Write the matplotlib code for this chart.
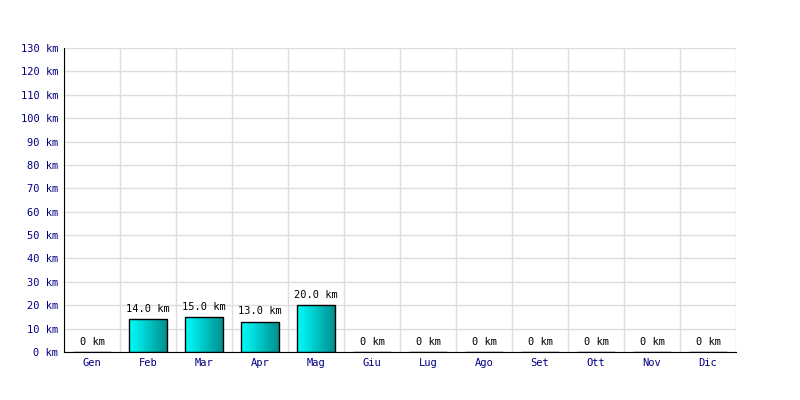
import matplotlib
matplotlib.use("Agg")
import matplotlib.pyplot as plt
import numpy as np

months = ["Gen", "Feb", "Mar", "Apr", "Mag", "Giu", "Lug", "Ago", "Set", "Ott", "Nov", "Dic"]
km = [0, 14.0, 15.0, 13.0, 20.0, 0, 0, 0, 0, 0, 0, 0]
y_ticks = list(range(0, 131, 10))

plt.rcParams['font.family'] = ['DejaVu Sans Mono']

fig = plt.figure(figsize=(8, 4), dpi=100)
ax = fig.add_axes([0.08, 0.12, 0.84, 0.76])

x = np.arange(len(months))
bars = ax.bar(x, km, width=0.68, facecolor='none', edgecolor='black', linewidth=1, zorder=3)

# horizontal gradient inside each bar
grad = np.linspace(0, 1, 256).reshape(1, -1)
cmap = matplotlib.colors.LinearSegmentedColormap.from_list('cy', ['#00ffff', '#008c8c'])
for b in bars:
    if b.get_height() <= 0:
        continue
    x0, w, h = b.get_x(), b.get_width(), b.get_height()
    im = ax.imshow(grad, cmap=cmap, aspect='auto', extent=[x0, x0 + w, 0, h], zorder=2)
    im.set_clip_path(b)

for xi, v in zip(x, km):
    label = f"{v:.1f} km" if v > 0 else "0 km"
    ax.text(xi, v + 2.2, label, ha='center', va='bottom', fontsize=7.5, color='black')

ax.set_xlim(-0.5, len(months) - 0.5)
ax.set_ylim(0, 130)
ax.set_yticks(y_ticks)
ax.set_yticklabels([f"{t} km" for t in y_ticks], color='#000080', fontsize=7.5)
ax.set_xticks(x)
ax.set_xticklabels(months, color='#000080', fontsize=7.5)
ax.set_xticks(np.arange(-0.5, len(months), 1), minor=True)
ax.tick_params(axis='both', which='both', length=0, pad=4)
ax.grid(False)
ax.grid(True, which='minor', axis='x', color='#dddddd', linewidth=1, zorder=0)
ax.grid(True, which='major', axis='y', color='#dddddd', linewidth=1, zorder=0)
ax.set_axisbelow(True)

for s in ['top', 'right']:
    ax.spines[s].set_visible(False)
ax.spines['left'].set_color('black')
ax.spines['bottom'].set_color('black')

fig.savefig("out.png", dpi=100)
